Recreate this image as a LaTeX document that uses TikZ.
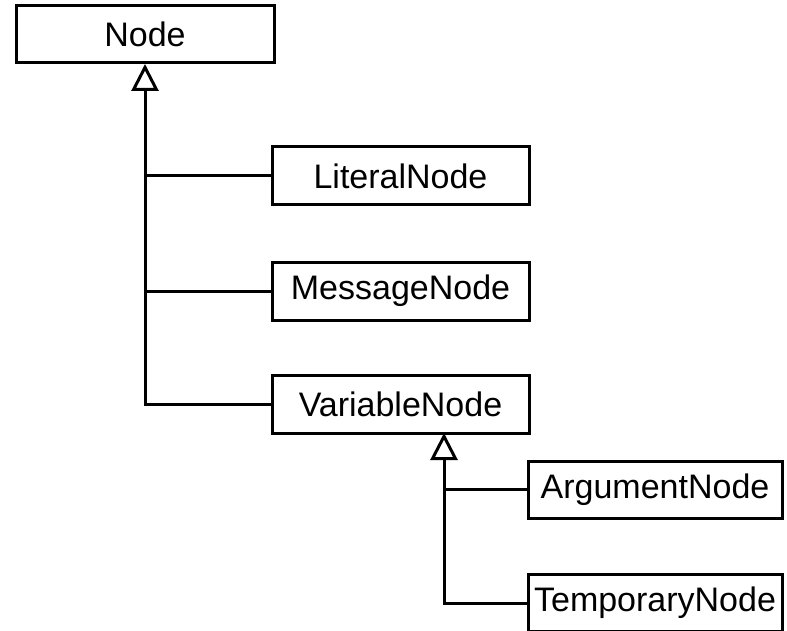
\documentclass[tikz,border=0pt]{standalone}
\usepackage{fontspec}
\setmainfont{Liberation Sans}
\usetikzlibrary{arrows.meta}
\begin{document}
\begin{tikzpicture}[x=1pt,y=-1pt,
  classbox/.style={draw, line width=3pt, inner sep=0pt, fill=white,
    font=\fontsize{34}{40}\selectfont},
  link/.style={line width=3pt},
  inherit/.style={link, -{Triangle[open, length=27pt, width=27pt, line width=3pt]}}]
  \useasboundingbox (0,0) rectangle (787,631);
  % class boxes
  \node[classbox, minimum width=258pt, minimum height=57pt] (top) at (145,34) {Node};
  \node[classbox, minimum width=257pt, minimum height=58pt] (lit) at (400.5,176) {LiteralNode};
  \node[classbox, minimum width=257pt, minimum height=58pt] (msg) at (400.5,291) {MessageNode};
  \node[classbox, minimum width=257pt, minimum height=58pt] (var) at (400.5,404) {VariableNode};
  \node[classbox, minimum width=254pt, minimum height=57pt] (arg) at (655,489.5) {ArgumentNode};
  \node[classbox, minimum width=254pt, minimum height=57pt] (tmp) at (655,603) {TemporaryNode};
  % trunk below VariableNode sits off-centre
  \coordinate (vb) at (444,433);
  % generalisation trees
  \draw[inherit] (var.west) -| (top.south);
  \draw[link] (lit.west) -- (lit.west -| top.south);
  \draw[link] (msg.west) -- (msg.west -| top.south);
  \draw[inherit] (tmp.west) -| (vb);
  \draw[link] (arg.west) -- (arg.west -| vb);
\end{tikzpicture}
\end{document}
